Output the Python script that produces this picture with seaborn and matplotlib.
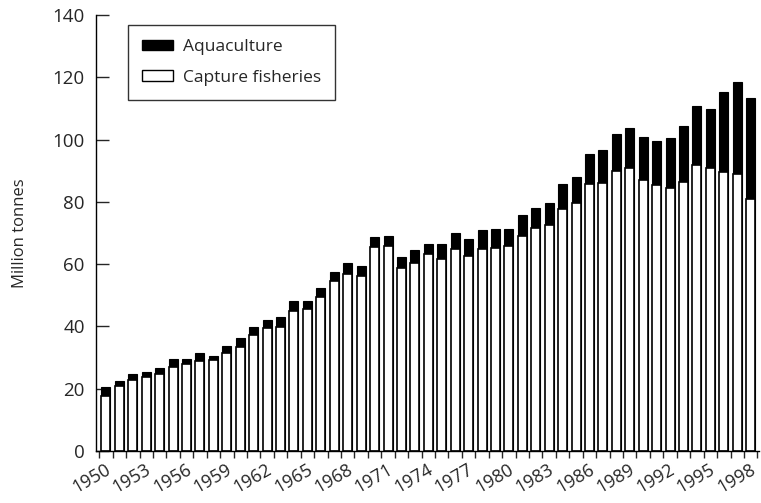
import numpy as np
import pandas as pd
import seaborn as sns
import matplotlib.pyplot as plt
import matplotlib.transforms as mtransforms
from matplotlib.patches import Patch

years = list(range(1950, 1999))

# total production (capture + aquaculture), million tonnes
total = [20.4, 22.6, 24.6, 25.4, 26.5, 29.5, 29.4, 31.4, 30.5, 33.6,
         36.2, 39.9, 42.2, 42.9, 48.1, 48.1, 52.2, 57.6, 60.5, 59.5,
         68.8, 69.1, 62.2, 64.4, 66.5, 66.5, 69.9, 68.0, 71.1, 71.2,
         71.4, 75.9, 78.1, 79.5, 85.8, 88.1, 95.3, 96.5, 101.9, 103.6,
         100.9, 99.4, 100.5, 104.2, 110.8, 109.7, 115.2, 118.4, 113.2]

capture = [17.8, 20.9, 22.8, 23.9, 24.7, 27.1, 27.9, 28.9, 29.1, 31.5,
           33.5, 37.1, 39.6, 39.9, 44.9, 45.7, 49.5, 54.7, 56.9, 56.2,
           65.4, 65.9, 58.6, 60.4, 63.2, 61.7, 64.8, 62.5, 64.9, 65.2,
           65.7, 69.0, 71.6, 72.5, 77.6, 79.6, 85.6, 85.9, 90.0, 90.8,
           87.0, 85.3, 84.5, 86.3, 91.9, 90.9, 89.7, 89.1, 80.9]

df = pd.DataFrame({"year": [str(y) for y in years],
                   "total": total, "capture": capture})

sns.set_style("white")
plt.rcParams['font.family'] = ['Open Sans', 'DejaVu Sans']

fig = plt.figure(figsize=(7.61, 5.03), dpi=100)
ax = fig.add_axes([0.126, 0.1034, 0.871, 0.8668])

sns.barplot(data=df, x="year", y="total", color="black", edgecolor="black",
            linewidth=0.8, width=0.67, saturation=1, ax=ax)
sns.barplot(data=df, x="year", y="capture", color="white", edgecolor="black",
            linewidth=1.2, width=0.67, saturation=1, ax=ax)

ax.set_ylim(0, 140)
ax.set_xlim(-0.75, 48.6)
ax.set_yticks(range(0, 141, 20))
ax.tick_params(axis="y", direction="in", length=9, width=1, labelsize=13.5,
               pad=8, left=True)

# labels every third year, small ticks at every bar boundary
ax.set_xticks(range(0, 49, 3))
ax.set_xticklabels([str(y) for y in years[::3]], fontsize=13)
ax.set_xticks(np.arange(-0.5, 49, 1), minor=True)
ax.tick_params(axis="x", which="major", length=0, pad=7)
ax.tick_params(axis="x", which="minor", direction="out", length=5, width=1,
               bottom=True)
offset = mtransforms.ScaledTranslation(-1 / 100, 0, fig.dpi_scale_trans)
for lab in ax.get_xticklabels():
    lab.set_rotation(30)
    lab.set_ha("right")
    lab.set_va("top")
    lab.set_rotation_mode("anchor")
    lab.set_transform(lab.get_transform() + offset)

ax.set_xlabel("")
ax.set_ylabel("Million tonnes", fontsize=12, labelpad=18)

for side in ["top", "right"]:
    ax.spines[side].set_visible(False)
for side in ["left", "bottom"]:
    ax.spines[side].set_color("black")
    ax.spines[side].set_linewidth(1)

handles = [Patch(facecolor="black", edgecolor="black", label="Aquaculture"),
           Patch(facecolor="white", edgecolor="black", label="Capture fisheries")]
leg = ax.legend(handles=handles, loc="upper left", bbox_to_anchor=(0.048, 0.977),
                borderaxespad=0, fontsize=12.5, frameon=True, fancybox=False,
                edgecolor="black", handlelength=1.8, handleheight=0.55,
                handletextpad=0.6, borderpad=0.8, labelspacing=0.85)
leg.get_frame().set_linewidth(1)

fig.savefig("out.png", dpi=100)
